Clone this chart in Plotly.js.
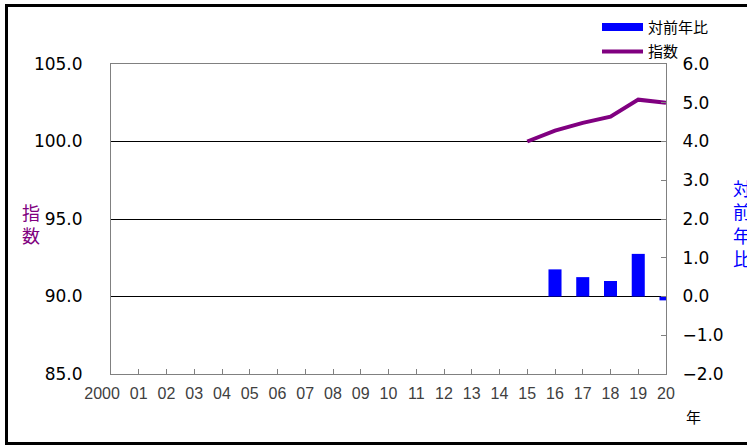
<!DOCTYPE html>
<html>
<head>
<meta charset="utf-8">
<script src="https://cdn.plot.ly/plotly-3.0.1.min.js"></script>
<style>html,body{margin:0;padding:0;background:#fff;}#chart{width:747px;height:445px;}</style>
</head>
<body>
<div id="chart"></div>
<script>
const years = [2000,2001,2002,2003,2004,2005,2006,2007,2008,2009,2010,2011,2012,2013,2014,2015,2016,2017,2018,2019,2020];
const yearLabels = ["2000\u00A0\u00A0\u00A0\u00A0","01","02","03","04","05","06","07","08","09","10","11","12","13","14","15","16","17","18","19","20"];
const indexYears = [2015,2016,2017,2018,2019,2020];
const indexValues = [100.0,100.7,101.2,101.6,102.7,102.5];
const changeYears = [2016,2017,2018,2019,2020];
const changeValues = [0.7,0.5,0.4,1.1,-0.1];
const leftTicks = [85,90,95,100,105];
const rightTicks = [-2,-1,0,1,2,3,4,5,6];

const jp = '"Noto Sans CJK JP", "Noto Sans", sans-serif';
const num = '"DejaVu Sans", sans-serif';

const traces = [
  {type:'bar', name:'対前年比', x:changeYears, y:changeValues, yaxis:'y2',
   marker:{color:'#0000FF'}, width:0.47, showlegend:false, hoverinfo:'x+y'},
  {type:'scatter', mode:'lines', name:'指数', x:indexYears, y:indexValues, yaxis:'y',
   line:{color:'#800080', width:4}, showlegend:false}
];

const layout = {
  width:747, height:445,
  margin:{l:111, r:81, t:64, b:71},
  paper_bgcolor:'#ffffff', plot_bgcolor:'#ffffff',
  showlegend:false,
  xaxis:{range:[2000,2020], tickvals:years, ticktext:yearLabels, tickangle:0,
    ticks:'inside', ticklen:5, tickcolor:'#808080', tickwidth:1,
    showline:true, linecolor:'#808080', linewidth:1, mirror:true,
    showgrid:false, zeroline:false, ticklabelstandoff:5,
    tickfont:{family:'"Liberation Sans", sans-serif', size:16, color:'#404040'}},
  yaxis:{range:[85,105], tickvals:leftTicks, tickformat:'.1f',
    ticks:'', showline:true, linecolor:'#808080', linewidth:1,
    showgrid:true, gridcolor:'#000000', gridwidth:1, zeroline:false,
    ticklabelstandoff:24,
    tickfont:{family:num, size:17, color:'#000000'}},
  yaxis2:{range:[-2,6], tickvals:rightTicks, tickformat:'.1f', overlaying:'y', side:'right',
    ticks:'inside', ticklen:5, tickcolor:'#808080',
    showline:true, linecolor:'#808080', linewidth:1,
    showgrid:false, zeroline:false, ticklabelstandoff:12,
    tickfont:{family:num, size:17, color:'#000000'}},
  shapes:[
    {type:'rect', xref:'paper', yref:'paper', x0:(6.5-111)/555, x1:(800-111)/555,
     y0:(374-443.5)/310, y1:(374-5.5)/310, line:{color:'#000000', width:3}},
    {type:'rect', xref:'paper', yref:'paper', x0:(602-111)/555, x1:(643-111)/555,
     y0:(374-31)/310, y1:(374-23)/310, line:{width:0}, fillcolor:'#0000FF'},
    {type:'line', xref:'paper', yref:'paper', x0:(602-111)/555, x1:(643-111)/555,
     y0:(374-51.5)/310, y1:(374-51.5)/310, line:{color:'#800080', width:4}}
  ],
  annotations:[
    {xref:'paper', yref:'paper', x:(646-111)/555, y:(374-27)/310, xanchor:'left', yanchor:'middle',
     text:'対前年比', showarrow:false, font:{family:jp, size:15, color:'#000000'}},
    {xref:'paper', yref:'paper', x:(646-111)/555, y:(374-50)/310, xanchor:'left', yanchor:'middle',
     text:'指数', showarrow:false, font:{family:jp, size:15, color:'#000000'}},
    {xref:'paper', yref:'paper', x:(31-111)/555, y:(374-223)/310, xanchor:'center', yanchor:'middle',
     text:'指<br>数', showarrow:false, font:{family:jp, size:18, color:'#800080'}},
    {xref:'paper', yref:'paper', x:(742-111)/555, y:(374-223)/310, xanchor:'center', yanchor:'middle',
     text:'対<br>前<br>年<br>比', showarrow:false, font:{family:jp, size:18, color:'#0000FF'}},
    {xref:'paper', yref:'paper', x:(693-111)/555, y:(374-416)/310, xanchor:'center', yanchor:'middle',
     text:'年', showarrow:false, font:{family:jp, size:15, color:'#000000'}}
  ]
};

Plotly.newPlot('chart', traces, layout, {displayModeBar:false, staticPlot:true});
</script>
</body>
</html>
